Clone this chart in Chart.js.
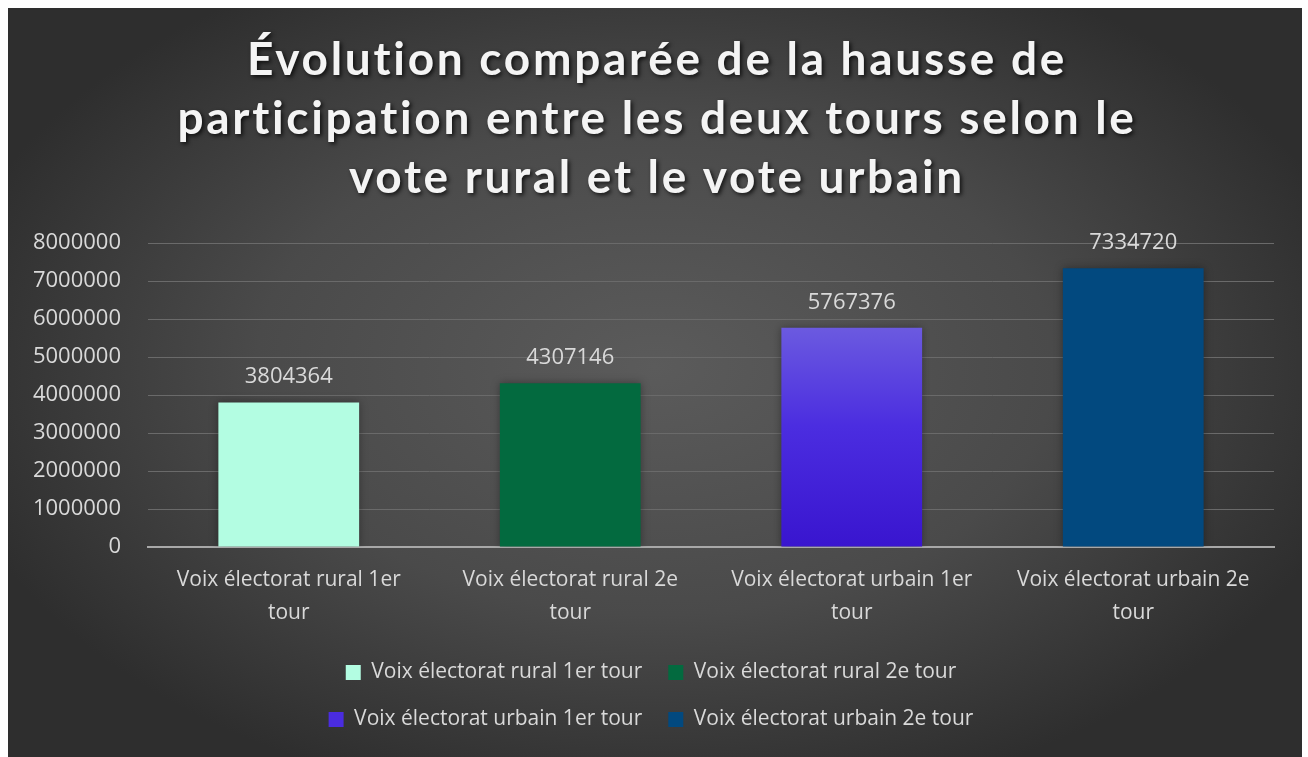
<!DOCTYPE html>
<html>
<head>
<meta charset="utf-8">
<script src="https://cdn.jsdelivr.net/npm/chart.js@4.4.1/dist/chart.umd.min.js"></script>
<style>
  html, body { margin: 0; background: #fff; }
  #wrap { position: absolute; left: 8px; top: 8px; width: 1294px; height: 749px; }
</style>
</head>
<body>
<div id="wrap"><canvas id="chart"></canvas></div>
<script>
const titleLines = [
  "Évolution comparée de la hausse de",
  "participation entre les deux tours selon le",
  "vote rural et le vote urbain",
];
const categories = [
  ["Voix électorat rural 1er", "tour"],
  ["Voix électorat rural 2e", "tour"],
  ["Voix électorat urbain 1er", "tour"],
  ["Voix électorat urbain 2e", "tour"],
];
const seriesNames = [
  "Voix électorat rural 1er tour",
  "Voix électorat rural 2e tour",
  "Voix électorat urbain 1er tour",
  "Voix électorat urbain 2e tour",
];
const votes = [3804364, 4307146, 5767376, 7334720];
const barColors = ["#b3fde2", "#036a3f", "#4a2ce0", "#02497f"];
const yMax = 8000000;
const yStep = 1000000;

Chart.defaults.font.family = "'Open Sans'";
Chart.defaults.color = "#d9d9d9";

// dark radial backdrop, lighter in the middle
const backdrop = {
  id: "backdrop",
  beforeDraw(chart) {
    const { ctx, width, height } = chart;
    ctx.save();
    ctx.fillStyle = "#2e2e2e";
    ctx.fillRect(0, 0, width, height);
    ctx.translate(width / 2, height * 0.48);
    ctx.scale(1, 0.62);
    const g = ctx.createRadialGradient(0, 0, 0, 0, 0, width * 0.56);
    g.addColorStop(0, "#5b5b5b");
    g.addColorStop(0.55, "#4a4a4a");
    g.addColorStop(1, "#2e2e2e");
    ctx.fillStyle = g;
    ctx.fillRect(-width, -height * 2, width * 2, height * 4);
    ctx.restore();
  },
};

// title drawn by hand so it can get the soft shadow
const shadowTitle = {
  id: "shadowTitle",
  afterDraw(chart) {
    const { ctx, width } = chart;
    ctx.save();
    ctx.font = "bold 46px Lato";
    ctx.textAlign = "center";
    ctx.textBaseline = "alphabetic";
    if ("letterSpacing" in ctx) ctx.letterSpacing = "2.7px";
    ctx.fillStyle = "#f4f4f4";
    ctx.shadowColor = "rgba(0,0,0,0.75)";
    ctx.shadowBlur = 4;
    ctx.shadowOffsetX = 2;
    ctx.shadowOffsetY = 2;
    titleLines.forEach((line, i) => {
      ctx.fillText(line, width / 2 + 2, 67 + i * 59);
    });
    ctx.restore();
  },
};

// value above each bar
const valueLabels = {
  id: "valueLabels",
  afterDatasetsDraw(chart) {
    const { ctx } = chart;
    const meta = chart.getDatasetMeta(0);
    ctx.save();
    ctx.font = "22px 'Open Sans'";
    ctx.fillStyle = "#d9d9d9";
    ctx.textAlign = "center";
    ctx.textBaseline = "alphabetic";
    meta.data.forEach((bar, i) => {
      ctx.fillText(String(votes[i]), bar.x, bar.y - 19);
    });
    ctx.restore();
  },
};

const barShadow = {
  id: "barShadow",
  beforeDatasetsDraw(chart) {
    const { ctx } = chart;
    ctx.save();
    ctx.shadowColor = "rgba(0,0,0,0.35)";
    ctx.shadowBlur = 8;
  },
  afterDatasetsDraw(chart) {
    chart.ctx.restore();
  },
};

// legend: 2 rows of 2. fit() sizes the rows, draw() wraps on this.right,
// so narrow both around the centre
const LEGEND_HALF = 380;
const legendWrap = {
  id: "legendWrap",
  beforeLayout(chart) {
    const lg = chart.legend;
    if (!lg || lg.__wrapped) return;
    const orig = lg._fitRows;
    lg._fitRows = function (...args) {
      const mw = this.maxWidth;
      this.maxWidth = Math.min(mw, LEGEND_HALF * 2);
      const h = orig.apply(this, args);
      this.maxWidth = mw;
      return h;
    };
    lg.__wrapped = true;
  },
  afterLayout(chart) {
    const lg = chart.legend;
    if (!lg) return;
    const c = 643;
    lg.left = c - LEGEND_HALF;
    lg.right = c + LEGEND_HALF;
    lg.width = LEGEND_HALF * 2;
  },
};

new Chart(document.getElementById("chart"), {
  type: "bar",
  data: {
    labels: categories,
    datasets: [{
      data: votes,
      backgroundColor: (context) => {
        const i = context.dataIndex;
        const { chart } = context;
        if (i !== 2 || !chart.chartArea) return barColors[i];
        const top = chart.scales.y.getPixelForValue(votes[i]);
        const g = chart.ctx.createLinearGradient(0, top, 0, chart.chartArea.bottom);
        g.addColorStop(0, "#6b5ae0");
        g.addColorStop(0.45, "#4b2de0");
        g.addColorStop(1, "#3915cf");
        return g;
      },
      borderWidth: 0,
      barPercentage: 1,
      categoryPercentage: 0.5,
    }],
  },
  options: {
    responsive: true,
    maintainAspectRatio: false,
    animation: false,
    layout: { padding: { top: 235, left: 8, right: 28, bottom: 17 } },
    plugins: {
      title: { display: false },
      tooltip: { enabled: false },
      legend: {
        position: "bottom",
        labels: {
          font: { size: 21 },
          color: "#d9d9d9",
          boxWidth: 15,
          boxHeight: 15,
          padding: 26,
          generateLabels: () => seriesNames.map((name, i) => ({
            text: name,
            fillStyle: barColors[i],
            strokeStyle: barColors[i],
            fontColor: "#d9d9d9",
            lineWidth: 0,
            hidden: false,
            index: i,
            datasetIndex: 0,
          })),
        },
      },
    },
    scales: {
      x: {
        afterFit: (scale) => { scale.height = 89; },
        grid: { display: false, drawTicks: false },
        border: { display: true, color: "#a8a8a8", width: 2 },
        ticks: {
          font: { size: 21, lineHeight: 1.6 },
          color: "#d9d9d9",
          padding: 16,
          maxRotation: 0,
          autoSkip: false,
        },
      },
      y: {
        min: 0,
        max: yMax,
        afterFit: (scale) => { scale.width = 132; },
        grid: {
          drawTicks: false,
          color: (ctx) => (ctx.tick && ctx.tick.value === 0 ? "rgba(0,0,0,0)" : "#6a6a6a"),
          lineWidth: 1,
        },
        border: { display: false },
        ticks: {
          stepSize: yStep,
          font: { size: 22 },
          color: "#d9d9d9",
          padding: 27,
          callback: (v) => String(v),
        },
      },
    },
  },
  plugins: [backdrop, legendWrap, barShadow, valueLabels, shadowTitle],
});
</script>
</body>
</html>
